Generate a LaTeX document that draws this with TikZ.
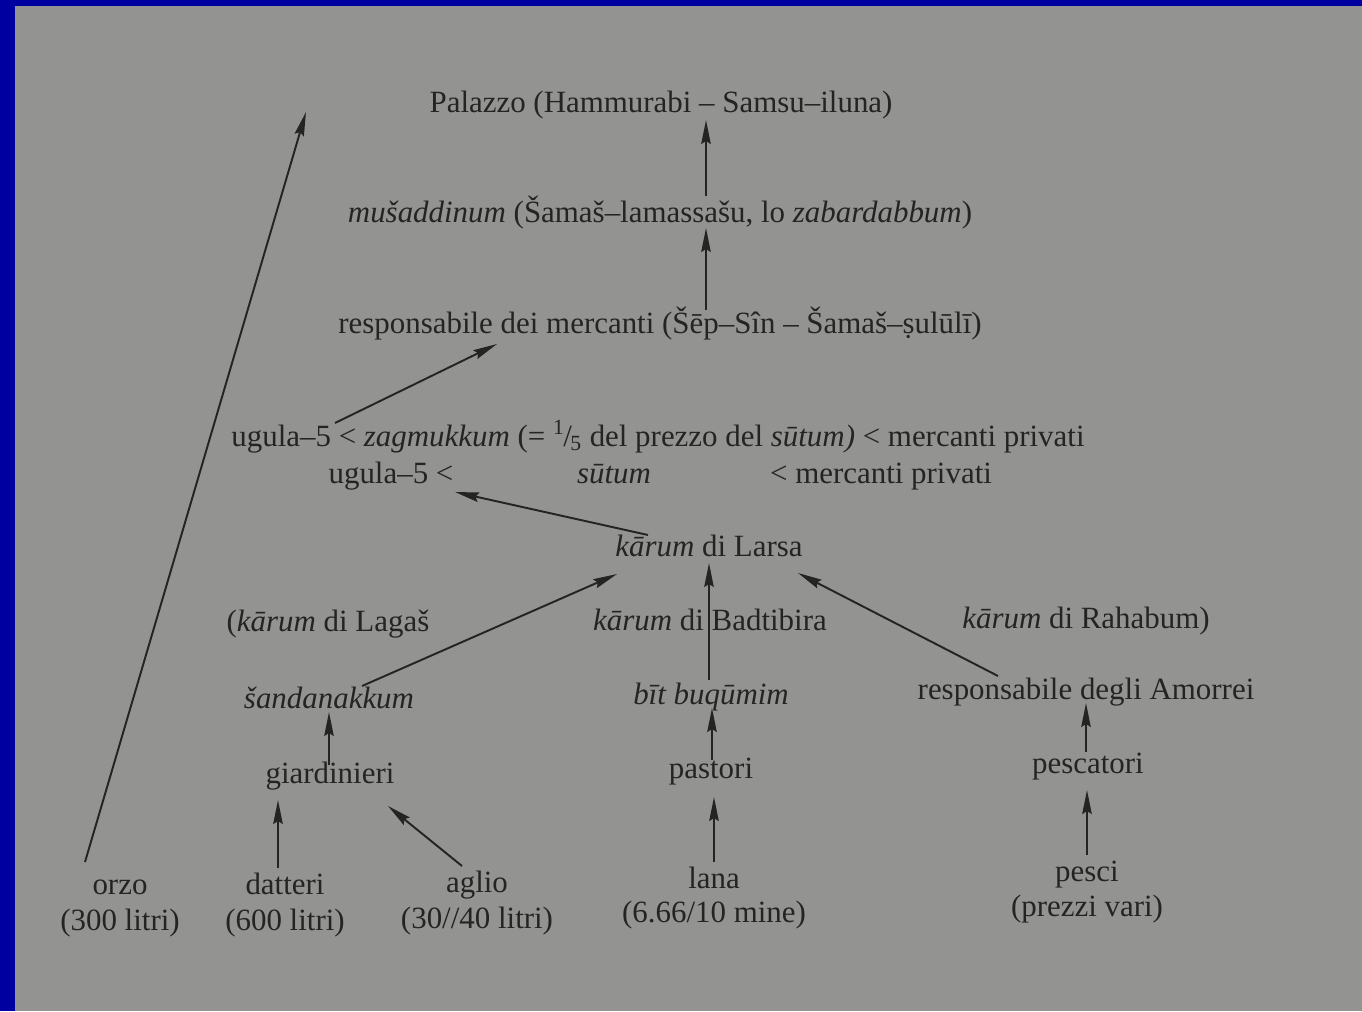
\documentclass[tikz,border=0pt]{standalone}
\usepackage{fontspec}
\setmainfont{Liberation Serif}
\usepackage{tikz}
\usetikzlibrary{arrows.meta,calc}
\usepackage{xcolor}
\definecolor{slideblue}{RGB}{0,0,160}
\definecolor{pagegray}{RGB}{147,148,145}
\definecolor{ink}{RGB}{36,36,34}

\begin{document}
\begin{tikzpicture}[
    x=0.02cm, y=-0.02cm,
    lbl/.style={font=\fontsize{17.6}{21}\selectfont, text=ink, inner sep=0pt, anchor=base},
    arr/.style={-{Stealth[length=0.48cm,width=0.19cm,inset=0.06cm]}, line width=1.1pt, draw=ink}
]
% slide frame and page
\fill[slideblue] (0,0) rectangle (1362,1011);
\fill[pagegray] (15,6) rectangle (1362,1011);

\node[lbl] (pal) at (661,112) {Palazzo (Hammurabi – Samsu–iluna)};
\node[lbl] (mus) at (660,222) {\textit{mušaddinum} (Šamaš–lamassašu, lo \textit{zabardabbum})};
\node[lbl] (resp) at (660,333) {responsabile dei mercanti (Šēp–Sîn – Šamaš–ṣulūlī)};
\node[lbl] (ugA) at (658,446) {ugula–5 < \textit{zagmukkum} (= \textsuperscript{1}\kern-.05em/\kern-.05em\textsubscript{5} del prezzo del \textit{sūtum)} < mercanti privati};
\node[lbl] (ugB) at (391,483) {ugula–5 <};
\node[lbl] (sut) at (614,483) {\textit{sūtum}};
\node[lbl] (merc) at (881,483) {< mercanti privati};
\node[lbl] (larsa) at (709,556) {\textit{kārum} di Larsa};

\node[lbl] (lagas) at (328,631) {(\textit{kārum} di Lagaš};
\node[lbl] (badt) at (710,630) {\textit{kārum} di Badtibira};
\node[lbl] (rahab) at (1086,628) {\textit{kārum} di Rahabum)};

\node[lbl] (sand) at (329,708) {\textit{šandanakkum}};
\node[lbl] (bit) at (711,704) {\textit{bīt buqūmim}};
\node[lbl] (amor) at (1086,699) {responsabile degli Amorrei};

\node[lbl] (giard) at (330,783) {giardinieri};
\node[lbl] (past) at (711,778) {pastori};
\node[lbl] (pesc) at (1088,773) {pescatori};

\node[lbl] (orzo) at (120,894) {orzo};
\node[lbl] (orzo2) at (120,930) {(300 litri)};
\node[lbl] (datt) at (285,894) {datteri};
\node[lbl] (datt2) at (285,930) {(600 litri)};
\node[lbl] (aglio) at (477,892) {aglio};
\node[lbl] (aglio2) at (477,928) {(30//40 litri)};
\node[lbl] (lana) at (714,888) {lana};
\node[lbl] (lana2) at (714,922) {(6.66/10 mine)};
\node[lbl] (pesci) at (1087,881) {pesci};
\node[lbl] (pesci2) at (1087,916) {(prezzi vari)};

\coordinate (peak) at (306,112);

% arrows
\draw[arr] ($(orzo.base)+(-35,-32)$) -- (peak);
\draw[arr] ($(mus.base)+(46,-26)$) -- ($(pal.base)+(45,8)$);
\draw[arr] ($(resp.base)+(46,-23)$) -- ($(mus.base)+(46,6)$);
\draw[arr] ($(ugA.base)+(-323,-23)$) -- ($(resp.base)+(-163,11)$);
\draw[arr] ($(larsa.base)+(-61,-21)$) -- ($(ugB.base)+(64,9)$);
\draw[arr] ($(sand.base)+(33,-22)$) -- ($(larsa.base)+(-92,18)$);
\draw[arr] ($(bit.base)+(-2,-24)$) -- ($(larsa.base)+(0,7)$);
\draw[arr] ($(amor.base)+(-88,-23)$) -- ($(larsa.base)+(89,17)$);
\draw[arr] ($(giard.base)+(-1,-18)$) -- ($(sand.base)+(0,4)$);
\draw[arr] ($(past.base)+(1,-18)$) -- ($(bit.base)+(1,4)$);
\draw[arr] ($(pesc.base)+(-2,-21)$) -- ($(amor.base)+(0,4)$);
\draw[arr] ($(datt.base)+(-7,-26)$) -- ($(giard.base)+(-52,17)$);
\draw[arr] ($(aglio.base)+(-15,-26)$) -- ($(giard.base)+(58,23)$);
\draw[arr] ($(lana.base)+(0,-26)$) -- ($(past.base)+(3,19)$);
\draw[arr] ($(pesci.base)+(0,-26)$) -- ($(pesc.base)+(-1,17)$);
\end{tikzpicture}
\end{document}
